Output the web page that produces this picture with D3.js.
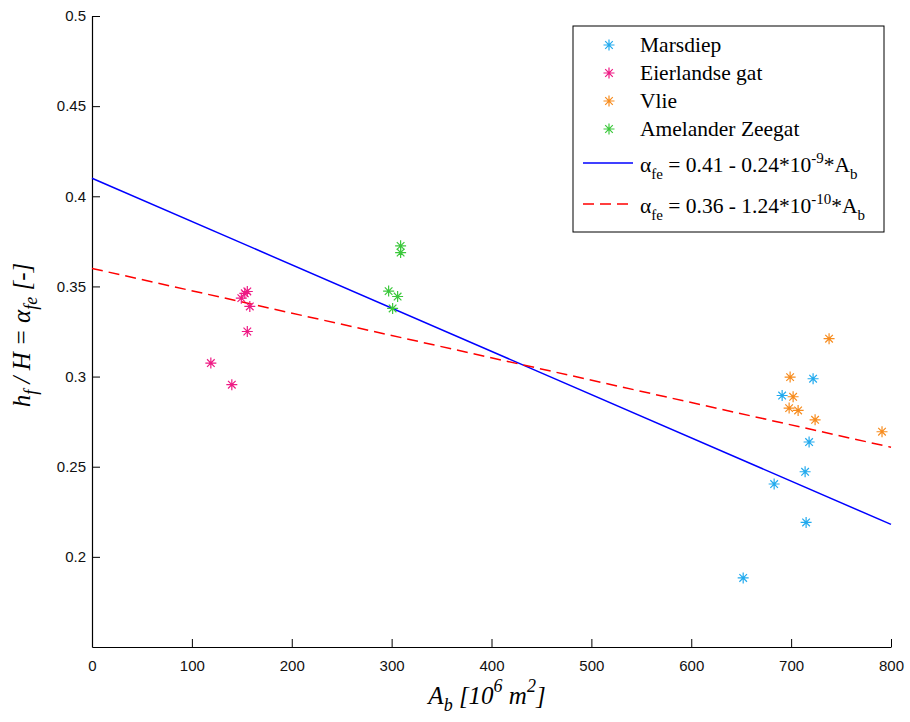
<!DOCTYPE html>
<html>
<head>
<meta charset="utf-8">
<script src="https://cdn.jsdelivr.net/npm/d3@7"></script>
<style>
  html, body { margin: 0; padding: 0; background: #fff; }
  svg { display: block; }
</style>
</head>
<body>
<svg id="chart" width="910" height="722"></svg>
<script>
// Basin area A_b [10^6 m^2] and ratio h_f / H for each tidal inlet
const marsdiepA = [722, 691, 718, 714, 683, 715, 652];
const marsdiepR = [0.2988, 0.2895, 0.2637, 0.2472, 0.2404, 0.2191, 0.1883];

const eierlandseA = [155.5, 153, 149.5, 158, 155.5, 119, 140];
const eierlandseR = [0.3472, 0.3462, 0.3435, 0.3389, 0.3250, 0.3075, 0.2955];

const vlieA = [738, 699, 702, 698, 707, 724, 791];
const vlieR = [0.3210, 0.2997, 0.2888, 0.2825, 0.2812, 0.2760, 0.2694];

const amelanderA = [309, 309, 297, 306, 301];
const amelanderR = [0.3725, 0.3688, 0.3474, 0.3444, 0.3378];

const seriesNames = ["Marsdiep", "Eierlandse gat", "Vlie", "Amelander Zeegat"];
const seriesColors = ["#22AAEE", "#EE1A84", "#F78C1E", "#3CC83C"];

// Linear fits: alpha_fe = intercept - slope * A_b (A_b in m^2)
const fitIntercepts = [0.41, 0.36];
const fitSlopes = [0.24e-9, 1.24e-10];
const fitColors = ["#0000FF", "#FF0000"];
const fitDash = [null, "11,6"];

const xTicks = [0, 100, 200, 300, 400, 500, 600, 700, 800];
const yTicks = [0.2, 0.25, 0.3, 0.35, 0.4, 0.45, 0.5];

const series = [
  [marsdiepA, marsdiepR],
  [eierlandseA, eierlandseR],
  [vlieA, vlieR],
  [amelanderA, amelanderR]
];

const svg = d3.select("#chart");
const x = d3.scaleLinear().domain([0, 800]).range([92, 891]);
const y = d3.scaleLinear().domain([0.15, 0.5]).range([647, 16]);

// Axes: ticks point inward
const xAxis = svg.append("g").attr("transform", `translate(0,${y(0.15)})`)
  .call(d3.axisBottom(x).tickValues(xTicks).tickSizeInner(-8).tickSizeOuter(0).tickPadding(13)
    .tickFormat(d3.format("d")));
const yAxis = svg.append("g").attr("transform", `translate(${x(0)},0)`)
  .call(d3.axisLeft(y).tickValues(yTicks).tickSizeInner(-8).tickSizeOuter(0).tickPadding(6)
    .tickFormat(d => String(d)));
[xAxis, yAxis].forEach(g => {
  g.selectAll("path.domain").attr("stroke", "#000").attr("stroke-width", 1.2);
  g.selectAll(".tick line").attr("stroke", "#000");
  g.selectAll(".tick text").attr("fill", "#111")
    .style("font-family", "'Liberation Sans', Arial, sans-serif").style("font-size", "15px");
});

// Fit lines
fitIntercepts.forEach((b, i) => {
  const f = a => b - fitSlopes[i] * a * 1e6;
  svg.append("line")
    .attr("x1", x(0)).attr("y1", y(f(0)))
    .attr("x2", x(800)).attr("y2", y(f(800)))
    .attr("stroke", fitColors[i]).attr("stroke-width", 1.5)
    .attr("stroke-dasharray", fitDash[i]);
});

// Asterisk marker
function star(g, cx, cy, color) {
  const r = 5.5, d = 3.8;
  g.append("path")
    .attr("d", `M${cx - r},${cy}H${cx + r}M${cx},${cy - r}V${cy + r}` +
      `M${cx - d},${cy - d}L${cx + d},${cy + d}M${cx - d},${cy + d}L${cx + d},${cy - d}`)
    .attr("stroke", color).attr("stroke-width", 1.2).attr("fill", "none");
}

const pts = svg.append("g");
series.forEach(([as, rs], i) => {
  as.forEach((a, j) => star(pts, x(a), y(rs[j]), seriesColors[i]));
});

// Legend
const lg = svg.append("g");
lg.append("rect").attr("x", 573).attr("y", 26).attr("width", 311).attr("height", 206)
  .attr("fill", "#fff").attr("stroke", "#000").attr("stroke-width", 1);
const serif = "'Liberation Serif', 'Times New Roman', serif";
const rowY = [45, 73, 101, 129];
seriesNames.forEach((name, i) => {
  star(lg, 609, rowY[i], seriesColors[i]);
  lg.append("text").attr("x", 640).attr("y", rowY[i] + 7)
    .style("font-family", serif).style("font-size", "21.5px").attr("fill", "#000").text(name);
});
const eqY = [172, 213];
const eqParts = [["0.41 - 0.24*10", "-9", "*A"], ["0.36 - 1.24*10", "-10", "*A"]];
eqY.forEach((yy, i) => {
  lg.append("line").attr("x1", 583).attr("x2", 633).attr("y1", yy - 9).attr("y2", yy - 9)
    .attr("stroke", fitColors[i]).attr("stroke-width", 1.3).attr("stroke-dasharray", fitDash[i]);
  const t = lg.append("text").attr("x", 640).attr("y", yy)
    .style("font-family", serif).style("font-size", "21.5px").attr("fill", "#000");
  t.append("tspan").text("\u03B1");
  t.append("tspan").attr("dy", 7).style("font-size", "15px").text("fe");
  t.append("tspan").attr("dy", -7).text(" = " + eqParts[i][0]);
  t.append("tspan").attr("dy", -9).style("font-size", "15px").text(eqParts[i][1]);
  t.append("tspan").attr("dy", 9).text(eqParts[i][2]);
  t.append("tspan").attr("dy", 7).style("font-size", "15px").text("b");
});

// Axis titles
const xl = svg.append("text").attr("x", 487).attr("y", 704).attr("text-anchor", "middle")
  .style("font-family", serif).style("font-size", "25px").style("font-style", "italic").attr("fill", "#000");
xl.append("tspan").text("A");
xl.append("tspan").attr("dy", 7).style("font-size", "18px").text("b");
xl.append("tspan").attr("dy", -7).text(" [10");
xl.append("tspan").attr("dy", -12).style("font-size", "18px").text("6");
xl.append("tspan").attr("dy", 12).text(" m");
xl.append("tspan").attr("dy", -12).style("font-size", "18px").text("2");
xl.append("tspan").attr("dy", 12).text("]");

const yl = svg.append("text").attr("transform", "translate(30,335) rotate(-90)")
  .attr("text-anchor", "middle")
  .style("font-family", serif).style("font-size", "25px").style("font-style", "italic").attr("fill", "#000");
yl.append("tspan").text("h");
yl.append("tspan").attr("dy", 7).style("font-size", "18px").text("f");
yl.append("tspan").attr("dy", -7).text(" / H = \u03B1");
yl.append("tspan").attr("dy", 7).style("font-size", "18px").text("fe");
yl.append("tspan").attr("dy", -7).text(" [-]");
</script>
</body>
</html>
